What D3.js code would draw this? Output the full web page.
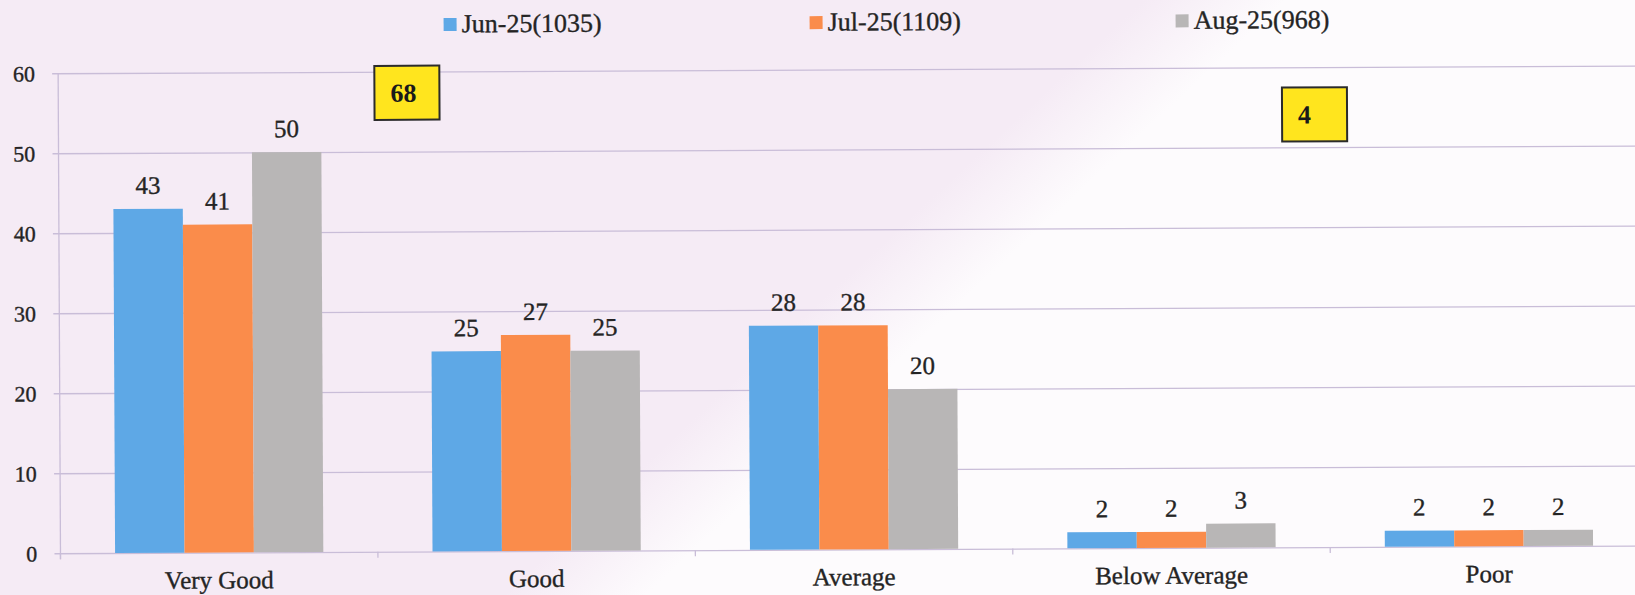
<!DOCTYPE html>
<html>
<head>
<meta charset="utf-8">
<script src="https://cdn.jsdelivr.net/npm/d3@7"></script>
<style>
  html, body { margin: 0; padding: 0; background: #ffffff; overflow: hidden; }
  svg { display: block; }
  text { paint-order: stroke; }
</style>
</head>
<body>
<svg id="chart" width="1635" height="595"></svg>
<script>
// Rating categories and monthly shares (%)
const categories = ["Very Good", "Good", "Average", "Below Average", "Poor"];
const seriesNames = ["Jun-25(1035)", "Jul-25(1109)", "Aug-25(968)"];
const jun25 = [43, 25, 28, 2, 2];
const jul25 = [41, 27, 28, 2, 2];
const aug25 = [50, 25, 20, 3, 2];
const yTicks = [0, 10, 20, 30, 40, 50, 60];
const calloutTexts = ["68", "4"];

const seriesValues = [jun25, jul25, aug25];
const colors = ["#5ea8e6", "#fa8c4b", "#b8b6b6"];
const FONT = "'Liberation Serif', 'Times New Roman', serif";
const TEXT = "#242424";
const GRID = "#c9bdd8";

const W = 1635, H = 595;
const plot = { left: 59.3, right: 1646.5, top: 69.4, bottom: 549.4 };

const svg = d3.select("#chart");

// page background: lavender tint fading to white along a diagonal
const defs = svg.append("defs");
const grad = defs.append("linearGradient")
  .attr("id", "bg")
  .attr("gradientUnits", "userSpaceOnUse")
  .attr("x1", 862).attr("y1", 262)
  .attr("x2", 928).attr("y2", 333);
grad.append("stop").attr("offset", 0).attr("stop-color", "#f5ebf5");
grad.append("stop").attr("offset", 1).attr("stop-color", "#fdfbfd");
svg.append("rect").attr("width", W).attr("height", H).attr("fill", "url(#bg)");

// whole chart sits slightly tilted
const g = svg.append("g").attr("transform", "rotate(-0.28, 845, 310)");

const x0 = d3.scaleBand()
  .domain(categories)
  .range([plot.left, plot.right])
  .paddingInner(0.344)
  .paddingOuter(0.172);

const x1 = d3.scaleBand()
  .domain(d3.range(seriesNames.length))
  .range([0, x0.bandwidth()])
  .padding(0);

const y = d3.scaleLinear()
  .domain([0, 60])
  .range([plot.bottom, plot.top]);

// shared text styling (slightly heavy strokes like printed type)
const styleText = (sel, size, color = TEXT) => sel
  .attr("font-family", FONT)
  .attr("font-size", size)
  .attr("fill", color)
  .attr("stroke", color)
  .attr("stroke-width", 0.35);

// horizontal gridlines + y tick labels
const yAxis = d3.axisLeft(y)
  .tickValues(yTicks)
  .tickSize(0)
  .tickFormat(d3.format("d"));

const yAxisG = g.append("g")
  .attr("transform", `translate(${plot.left - 6},0)`)
  .call(yAxis);
yAxisG.select(".domain").remove();
yAxisG.selectAll(".tick line")
  .attr("x1", 0)
  .attr("x2", plot.right - plot.left + 6)
  .attr("stroke", GRID)
  .attr("stroke-width", 1.3);
yAxisG.selectAll(".tick text")
  .attr("x", 36 - (plot.left - 6))
  .attr("dy", "0.34em")
  .attr("text-anchor", "end")
  .call(styleText, 22);

// vertical axis line
g.append("line")
  .attr("x1", plot.left).attr("x2", plot.left)
  .attr("y1", y(60)).attr("y2", y(0) + 6)
  .attr("stroke", GRID).attr("stroke-width", 1.3);

// category axis: boundary ticks and labels
const step = x0.step();
const boundaries = d3.range(categories.length + 1).map(i => plot.left + i * step);
g.selectAll("line.cat-tick")
  .data(boundaries)
  .join("line")
  .attr("class", "cat-tick")
  .attr("x1", d => d).attr("x2", d => d)
  .attr("y1", y(0)).attr("y2", y(0) + 6)
  .attr("stroke", GRID).attr("stroke-width", 1.3);

g.selectAll("text.cat-label")
  .data(categories)
  .join("text")
  .attr("class", "cat-label")
  .attr("x", d => x0(d) + x0.bandwidth() / 2)
  .attr("y", y(0) + 36)
  .attr("text-anchor", "middle")
  .call(styleText, 25)
  .text(d => d);

// bars
const groups = g.selectAll("g.cat")
  .data(categories)
  .join("g")
  .attr("class", "cat")
  .attr("transform", d => `translate(${x0(d)},0)`);

const cells = (ci) => seriesValues.map((vals, si) => ({ si, v: vals[ci] }));

groups.selectAll("rect")
  .data((d, ci) => cells(ci))
  .join("rect")
  .attr("x", d => x1(d.si))
  .attr("width", x1.bandwidth())
  .attr("y", d => y(d.v))
  .attr("height", d => y(0) - y(d.v))
  .attr("fill", d => colors[d.si]);

groups.selectAll("text")
  .data((d, ci) => cells(ci))
  .join("text")
  .attr("x", d => x1(d.si) + x1.bandwidth() / 2)
  .attr("y", d => y(d.v) - 15)
  .attr("text-anchor", "middle")
  .call(styleText, 25)
  .text(d => d.v);

// legend
const legend = g.append("g").attr("class", "legend");
const legendItems = legend.selectAll("g")
  .data(seriesNames)
  .join("g")
  .attr("transform", (d, i) => `translate(${445 + i * 366},0)`);
legendItems.append("rect")
  .attr("x", 0).attr("y", 16)
  .attr("width", 13).attr("height", 13)
  .attr("fill", (d, i) => colors[i]);
legendItems.append("text")
  .attr("x", 18).attr("y", 30.5)
  .call(styleText, 26)
  .text(d => d);

// yellow callout boxes
const calloutPos = [[375.5, 63.6], [1283, 89.6]];
const callouts = g.selectAll("g.callout")
  .data(calloutTexts)
  .join("g")
  .attr("class", "callout")
  .attr("transform", (d, i) => `translate(${calloutPos[i][0]},${calloutPos[i][1]})`);
callouts.append("rect")
  .attr("width", 65).attr("height", 54)
  .attr("fill", "#ffe51e")
  .attr("stroke", "#2b2b2b")
  .attr("stroke-width", 2);
callouts.append("text")
  .attr("x", 16).attr("y", 36)
  .attr("font-family", FONT)
  .attr("font-size", 26)
  .attr("font-weight", "bold")
  .attr("fill", "#1a1a1a")
  .text(d => d);
</script>
</body>
</html>
